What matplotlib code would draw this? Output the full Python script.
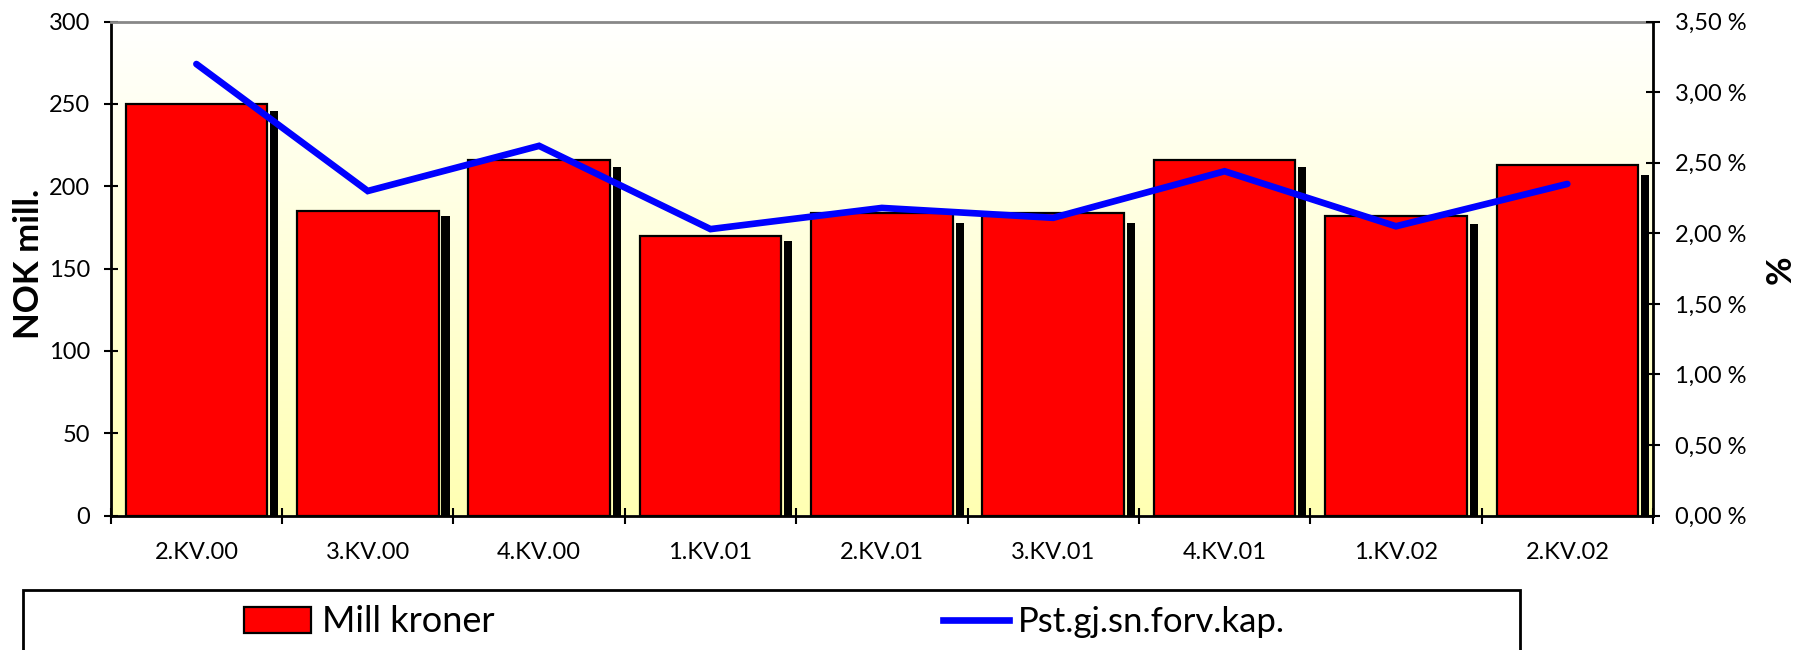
import numpy as np
import matplotlib
matplotlib.use("Agg")
import matplotlib.pyplot as plt
from matplotlib.patches import Rectangle, Patch
from matplotlib.lines import Line2D
from matplotlib.ticker import FuncFormatter

# data lest av figuren
kvartal = ["2.KV.00", "3.KV.00", "4.KV.00", "1.KV.01", "2.KV.01",
           "3.KV.01", "4.KV.01", "1.KV.02", "2.KV.02"]
mill_kroner = [250, 185, 216, 170, 184, 184, 216, 182, 213]
skygge = [246, 182, 212, 167, 178, 178, 212, 177, 207]  # de smale svarte stolpene
pst_forv_kap = [3.20, 2.30, 2.62, 2.03, 2.18, 2.11, 2.44, 2.05, 2.35]

plt.rcParams['font.family'] = ['Lato', 'DejaVu Sans']

W, H = 1799, 650
fig = plt.figure(figsize=(W / 100, H / 100), dpi=100)
ax = fig.add_axes([110.7 / W, 134.5 / H, (1653 - 110.7) / W, (515.5 - 21.7) / H])

x = np.arange(len(kvartal))

# bakgrunn: hvit oppe, lys gul nede
grad = np.linspace(0, 1, 256)[:, None, None]
topp = np.array([1.0, 1.0, 1.0])
bunn = np.array([1.0, 1.0, 0.70])
img = topp + (bunn - topp) * grad
ax.imshow(img, extent=[-0.5, len(kvartal) - 0.5, 0, 300], origin='upper',
          aspect='auto', zorder=0)

ax.bar(x, mill_kroner, width=0.826, color='#FF0000', edgecolor='black',
       linewidth=1.6, zorder=2)
ax.bar(x + 0.454, skygge, width=0.048, color='black', linewidth=0, zorder=2)

ax.set_xlim(-0.5, len(kvartal) - 0.5)
ax.set_ylim(0, 300)
ax.set_yticks(np.arange(0, 301, 50))

# x-akse: streker mellom kategoriene, tekst i midten
ax.set_xticks(np.arange(-0.5, len(kvartal), 1))
ax.set_xticklabels([])
ax.set_xticks(x, minor=True)
ax.set_xticklabels(kvartal, minor=True)
ax.tick_params(axis='x', which='major', direction='inout', length=12, width=1.5)
ax.tick_params(axis='x', which='minor', length=0, pad=19, labelsize=17)
ax.tick_params(axis='y', direction='inout', length=10, width=1.5, pad=10,
               labelsize=17)

ax.spines['top'].set_color('#888888')
ax.spines['top'].set_linewidth(2)
ax.spines['left'].set_linewidth(2)
ax.spines['bottom'].set_linewidth(2)
ax.spines['right'].set_visible(False)

ax2 = ax.twinx()
ax2.plot(x, pst_forv_kap, color='#0000FF', linewidth=4.8,
         solid_capstyle='round', solid_joinstyle='miter', zorder=3)
ax2.set_ylim(0, 3.5)
ax2.set_yticks(np.arange(0, 3.51, 0.5))
ax2.yaxis.set_major_formatter(FuncFormatter(lambda v, _: f"{v:.2f} %".replace('.', ',')))
ax2.tick_params(axis='y', direction='inout', length=10, width=1.5, pad=11,
                labelsize=17)
for s in ['top', 'left', 'bottom']:
    ax2.spines[s].set_visible(False)
ax2.spines['right'].set_linewidth(2)

fig.text(29 / W, (H - 264) / H, "NOK mill.", rotation=90, ha='center',
         va='center', fontsize=25, fontweight='bold')
fig.text(1781 / W, (H - 270) / H, "%", rotation=90, ha='center',
         va='center', fontsize=25, fontweight='bold')

# legende med ramme som går ut av bildet nederst
fig.add_artist(Rectangle((23 / W, -0.1), (1520 - 23) / W, 60 / H + 0.1,
                         transform=fig.transFigure, fill=False,
                         edgecolor='black', linewidth=2))
leg1 = fig.legend(handles=[Patch(facecolor='#FF0000', edgecolor='black', linewidth=1.6)],
                  labels=["Mill kroner"], loc='center left',
                  bbox_to_anchor=(244 / W, 28 / H), frameon=False, fontsize=26,
                  borderpad=0, borderaxespad=0, handlelength=1.85,
                  handleheight=0.7, handletextpad=0.3)
leg2 = fig.legend(handles=[Line2D([], [], color='#0000FF', linewidth=4.8)],
                  labels=["Pst.gj.sn.forv.kap."], loc='center left',
                  bbox_to_anchor=(943 / W, 28 / H), frameon=False, fontsize=25,
                  borderpad=0, borderaxespad=0, handlelength=1.9,
                  handletextpad=0.25)

fig.savefig("out.png", dpi=100)
